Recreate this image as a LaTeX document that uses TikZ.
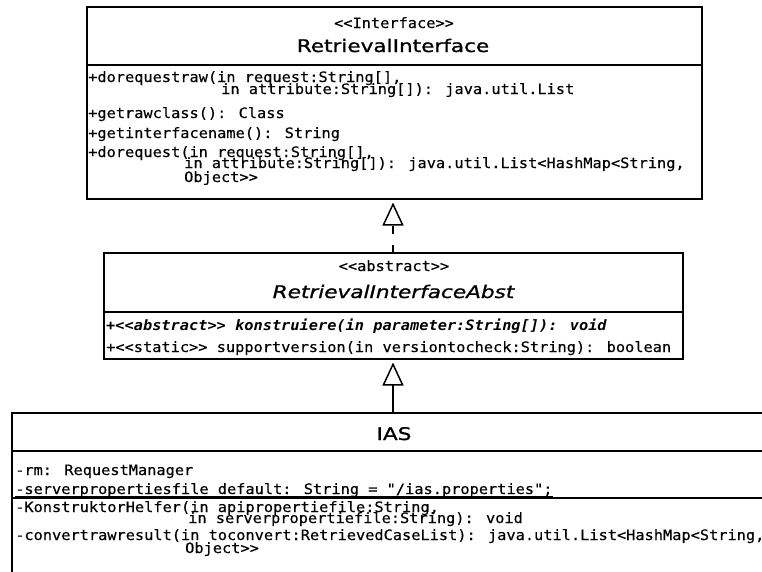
\documentclass[tikz,border=0pt]{standalone}
\usepackage{fontspec}
\usetikzlibrary{arrows.meta}
\newfontfamily\umlmono[FakeStretch=1.07, FakeBold=0.35]{DejaVu Sans Mono}
\newfontfamily\umlmonobi[FakeStretch=1.07]{DejaVu Sans Mono}
\newfontfamily\umlsans[FakeStretch=1.24, FakeBold=1.1]{DejaVu Sans}
\tikzset{
  umlbox/.style={draw, line width=1.6pt, inner sep=0pt, fill=white},
  divider/.style={line width=1.6pt},
  mtext/.style={anchor=base west, inner sep=0pt, font=\umlmono\fontsize{14.3}{14.3}\selectfont},
  stereo/.style={anchor=base, inner sep=0pt, font=\umlmono\fontsize{14.3}{14.3}\selectfont},
  cname/.style={anchor=base, inner sep=0pt, font=\umlsans\fontsize{17.4}{17.4}\selectfont},
  gen/.style={line width=1.6pt, -{Triangle[open, width=21pt, length=23pt, line width=1.5pt]}, shorten >=3.5pt},
}
\begin{document}
\begin{tikzpicture}[x=1pt,y=-1pt]
\useasboundingbox (0,0) rectangle (762,571);
\clip (0,0) rectangle (762,571);
\fill[white] (0,0) rectangle (762,571);

% ---------- RetrievalInterface ----------
\node[umlbox, minimum width=615pt, minimum height=192pt] (iface) at (394.5,103) {};
\draw[divider] (iface.west |- 0,65) -- (iface.east |- 0,65);
\node[stereo] (ifst) at (394,28) {<<Interface>>};
\node[cname] (ifname) at (393,52) {RetrievalInterface};
\node[mtext] (if1) at (88,82) {+dorequestraw(in request:String[],};
\node[mtext] (if2) at (221,94) {in attribute:String[]): java.util.List};
\node[mtext] (if3) at (88,118) {+getrawclass(): Class};
\node[mtext] (if4) at (88,138) {+getinterfacename(): String};
\node[mtext] (if5) at (88,157) {+dorequest(in request:String[],};
\node[mtext] (if6) at (184,168) {in attribute:String[]): java.util.List<HashMap<String,};
\node[mtext] (if7) at (184,182) {Object>>};

% ---------- RetrievalInterfaceAbst ----------
\node[umlbox, minimum width=579pt, minimum height=106pt] (abs) at (393.5,306) {};
\draw[divider] (abs.west |- 0,312) -- (abs.east |- 0,312);
\node[stereo] (abst) at (394,271) {<<abstract>>};
\node[cname, font=\umlsans\itshape\fontsize{17.4}{17.4}\selectfont] (absname) at (393.5,298) {RetrievalInterfaceAbst};
\node[mtext, font=\umlmonobi\bfseries\itshape\fontsize{14.3}{14.3}\selectfont] (abs1) at (106,330) {+<<abstract>> konstruiere(in parameter:String[]): void};
\node[mtext] (abs2) at (106,352) {+<<static>> supportversion(in versiontocheck:String): boolean};

% ---------- IAS ----------
\node[umlbox, minimum width=788pt, minimum height=187pt] (ias) at (406,506.5) {};
\draw[divider] (ias.west |- 0,451) -- (ias.east |- 0,451);
\draw[divider] (ias.west |- 0,498) -- (ias.east |- 0,498);
\node[cname] (iasname) at (394,440) {IAS};
\node[mtext] (ia1) at (15,475) {-rm: RequestManager};
\node[mtext] (ia2) at (15,494) {-serverpropertiesfile default: String = "/ias.properties";};
\draw[line width=0.9pt] ([yshift=-2pt]ia2.base west) -- ([yshift=-2pt]ia2.base east);
\node[mtext] (im1) at (15,512) {-KonstruktorHelfer(in apipropertiefile:String,};
\node[mtext] (im2) at (188,523) {in serverpropertiefile:String): void};
\node[mtext] (im3) at (15,540) {-convertrawresult(in toconvert:RetrievedCaseList): java.util.List<HashMap<String,};
\node[mtext] (im4) at (185,553) {Object>>};

% ---------- connectors ----------
\coordinate (absTop) at (393,253);
\coordinate (ifBot) at (393,199);
\coordinate (absBot) at (393,359);
\coordinate (iasTop) at (393,413);
\draw[gen, dash pattern=on 8pt off 11pt] (absTop) -- (ifBot);
\draw[gen] (iasTop) -- (absBot);
\end{tikzpicture}
\end{document}
